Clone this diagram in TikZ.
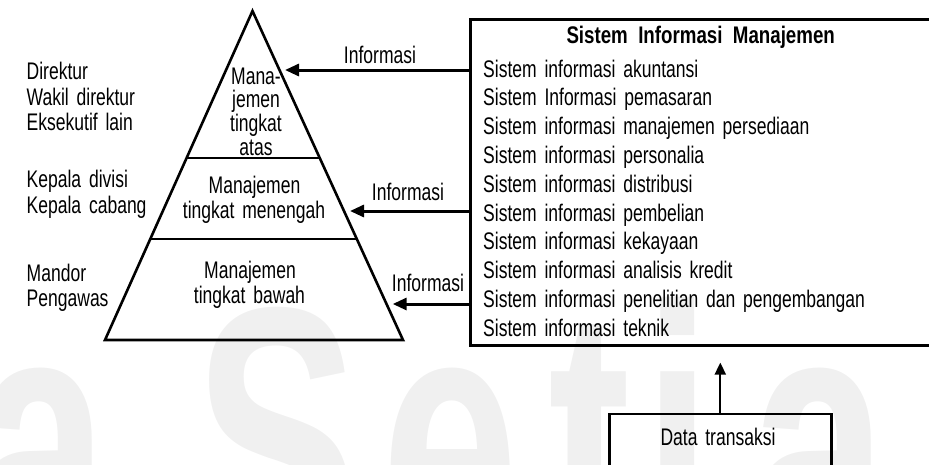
\documentclass[tikz,border=0pt]{standalone}
\usepackage{fontspec}
\setmainfont{Liberation Sans}[FakeStretch=0.73, WordSpace=1.6]
\newfontfamily\titlefont{Liberation Sans Bold}[FakeStretch=0.78, WordSpace=2.0]
\newfontfamily\markfont{Liberation Sans Bold}[FakeStretch=0.65]
\usetikzlibrary{arrows.meta,calc}

\tikzset{
  lbl/.style={font=\fontsize{24}{28}\selectfont, inner sep=0pt},
  titlelbl/.style={font=\titlefont\fontsize{24}{28}\selectfont, inner sep=0pt},
  pyr/.style={line width=2.6pt, line join=miter},
  frame/.style={draw, line width=2.6pt, inner sep=0pt},
  infoarrow/.style={line width=3pt, -{Triangle[length=14pt,width=12pt]}},
  uparrow/.style={line width=2.2pt, -{Triangle[length=12pt,width=11pt]}},
  wmark/.style={font=\markfont\fontsize{380}{380}\selectfont, text=black!6, inner sep=0pt, anchor=base},
}

\begin{document}
\begin{tikzpicture}[x=1pt, y=-1pt]
\useasboundingbox (0,0) rectangle (929,464);
\clip (0,0) rectangle (929,464);

% faint background lettering
\node[wmark] (wm1) at (40,572)  {a};
\node[wmark] (wm2) at (277,572) {S};
\node[wmark] (wm3) at (450,572) {e};
\node[wmark] (wm4) at (590,572) {t};
\node[wmark] (wm5) at (678,572) {i};
\node[wmark] (wm6) at (819,572) {a};

% management pyramid
\coordinate (apex) at (252.5,11);
\coordinate (bl) at (105,340);
\coordinate (br) at (403,340);
\draw[pyr] (apex) -- (br) -- (bl) -- cycle;
\coordinate (l1) at ($(apex)!{147/329}!(bl)$);
\coordinate (r1) at ($(apex)!{147/329}!(br)$);
\coordinate (l2) at ($(apex)!{228/329}!(bl)$);
\coordinate (r2) at ($(apex)!{228/329}!(br)$);
\draw[pyr] (l1) -- (r1);
\draw[pyr] (l2) -- (r2);

% level labels inside the pyramid
\node[lbl, anchor=base] (top1) at (256,84)    {Mana-};
\node[lbl, anchor=base] (top2) at (256,107.5) {jemen};
\node[lbl, anchor=base] (top3) at (256,131)   {tingkat};
\node[lbl, anchor=base] (top4) at (256,155)   {atas};
\node[lbl, anchor=base] (mid1) at (254.5,193) {Manajemen};
\node[lbl, anchor=base] (mid2) at (254,218)   {tingkat menengah};
\node[lbl, anchor=base] (low1) at (250,278)   {Manajemen};
\node[lbl, anchor=base] (low2) at (249.5,303) {tingkat bawah};

% positions held at each level
\node[lbl, anchor=base west] (pos1) at (26.5,79)  {Direktur};
\node[lbl, anchor=base west] (pos2) at (26.5,105) {Wakil direktur};
\node[lbl, anchor=base west] (pos3) at (26.5,130) {Eksekutif lain};
\node[lbl, anchor=base west] (pos4) at (26.5,187) {Kepala divisi};
\node[lbl, anchor=base west] (pos5) at (26.5,213.5) {Kepala cabang};
\node[lbl, anchor=base west] (pos6) at (26.5,281) {Mandor};
\node[lbl, anchor=base west] (pos7) at (26.5,306) {Pengawas};

% management information system box
\node[frame, anchor=north west, minimum width=463pt, minimum height=326pt] (sim) at (469,18) {};
\node[titlelbl, anchor=base] (simtitle) at (700.7,43) {Sistem Informasi Manajemen};
\node[lbl, anchor=base west] (s1)  at (483,77)    {Sistem informasi akuntansi};
\node[lbl, anchor=base west] (s2)  at (483,105.8) {Sistem Informasi pemasaran};
\node[lbl, anchor=base west] (s3)  at (483,134.6) {Sistem informasi manajemen persediaan};
\node[lbl, anchor=base west] (s4)  at (483,163.4) {Sistem informasi personalia};
\node[lbl, anchor=base west] (s5)  at (483,192.2) {Sistem informasi distribusi};
\node[lbl, anchor=base west] (s6)  at (483,221.0) {Sistem informasi pembelian};
\node[lbl, anchor=base west] (s7)  at (483,249.8) {Sistem informasi kekayaan};
\node[lbl, anchor=base west] (s8)  at (483,278.6) {Sistem informasi analisis kredit};
\node[lbl, anchor=base west] (s9)  at (483,307.4) {Sistem informasi penelitian dan pengembangan};
\node[lbl, anchor=base west] (s10) at (483,336.2) {Sistem informasi teknik};

% information flows to each level
\coordinate (t1) at (285,70);
\coordinate (t2) at (350,211);
\coordinate (t3) at (392.7,304);
\draw[infoarrow] (sim.west |- t1) -- (t1);
\draw[infoarrow] (sim.west |- t2) -- (t2);
\draw[infoarrow] (sim.west |- t3) -- (t3);
\node[lbl, anchor=base] (inf1) at (380,63)  {Informasi};
\node[lbl, anchor=base] (inf2) at (408,200) {Informasi};
\node[lbl, anchor=base] (inf3) at (428,291) {Informasi};

% transaction data feeding the system
\node[frame, anchor=north west, minimum width=222pt, minimum height=80pt] (data) at (608,412.7) {};
\node[lbl, anchor=base] (datalbl) at (718,445) {Data transaksi};
\coordinate (datatip) at ($(sim.south -| data.north)+(0,16)$);
\draw[uparrow] (data.north) -- (datatip);
\end{tikzpicture}
\end{document}
